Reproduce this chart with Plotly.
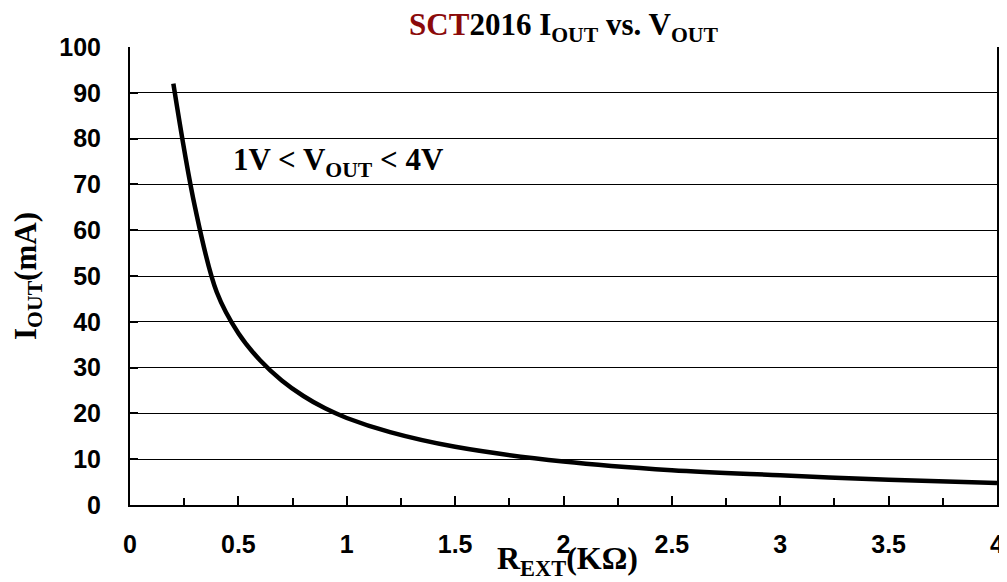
import plotly.graph_objects as go

r_ext = [0.2, 0.3, 0.4, 0.5, 0.6, 0.7, 0.8, 0.9, 1.0, 1.2, 1.5, 2.0, 2.5, 3.0, 3.5, 4.0]
i_out = [92, 65, 46.5, 37.5, 31.6, 27.2, 23.8, 21.1, 19, 15.9, 12.7, 9.5, 7.6, 6.5, 5.5, 4.8]

x_ticks = [0, 0.5, 1, 1.5, 2, 2.5, 3, 3.5, 4]
x_labels = ["0", "0.5", "1", "1.5", "2", "2.5", "3", "3.5", "4"]
y_ticks = list(range(0, 101, 10))

serif = "Liberation Serif"
sans = "Liberation Sans"

fig = go.Figure()
fig.add_trace(go.Scatter(
    x=r_ext, y=i_out, mode="lines",
    line=dict(color="black", width=4.5, shape="spline", smoothing=1.0),
    showlegend=False, hoverinfo="skip",
))

fig.update_layout(
    width=1007, height=582,
    margin=dict(l=122, r=18, t=39, b=85, autoexpand=False),
    paper_bgcolor="white", plot_bgcolor="white",
    title=dict(
        text="<b><span style='color:#8B0A0A'>SCT</span>2016 I<sub>OUT</sub> vs. V<sub>OUT</sub></b>",
        font=dict(family=serif, size=31, color="black"),
        x=0.5, xref="paper", xanchor="center",
        y=0.972, yref="container", yanchor="middle",
    ),
    xaxis=dict(
        range=[0, 4], tickvals=x_ticks, ticktext=["<b>%s</b>" % t for t in x_labels],
        tickfont=dict(family=sans, size=25, color="black"),
        ticks="inside", ticklen=9, tickwidth=2, tickcolor="black",
        ticklabelstandoff=16,
        minor=dict(dtick=0.25, ticks="inside", ticklen=7, tickwidth=2, tickcolor="black", showgrid=False),
        showline=True, linecolor="black", linewidth=2,
        showgrid=False, zeroline=False,
    ),
    yaxis=dict(
        range=[0, 100], tickvals=y_ticks, ticktext=["<b>%d</b>" % t for t in y_ticks],
        tickfont=dict(family=sans, size=25, color="black"),
        ticks="inside", ticklen=8, tickwidth=2, tickcolor="black",
        ticklabelstandoff=22,
        showline=True, linecolor="black", linewidth=2, mirror=True,
        showgrid=True, gridcolor="black", gridwidth=1,
        zeroline=False,
        title=dict(text="<b>I<sub>OUT</sub>(mA)</b>", font=dict(family=serif, size=31, color="black"), standoff=14),
    ),
    annotations=[
        dict(
            x=0.96, y=75, xref="x", yref="y",
            text="<b>1V < V<sub>OUT</sub> < 4V</b>",
            showarrow=False, font=dict(family=serif, size=31, color="black"),
            xanchor="center", yanchor="middle",
        ),
        dict(
            x=0.5, y=-0.122, xref="paper", yref="paper", xshift=4,
            text="<b>R<sub>EXT</sub>(KΩ)</b>",
            showarrow=False, font=dict(family=serif, size=32, color="black"),
            xanchor="center", yanchor="middle",
        ),
    ],
)

fig.write_html("out.html")
